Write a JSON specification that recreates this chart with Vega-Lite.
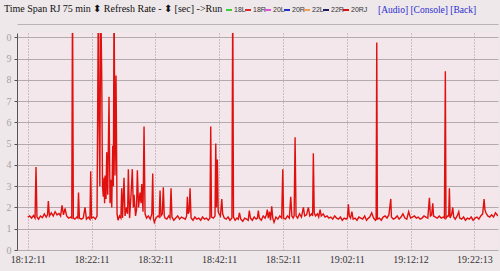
{
  "$schema": "https://vega.github.io/schema/vega-lite/v6.json",
  "width": 481,
  "height": 217,
  "autosize": "none",
  "padding": {"left": 17, "top": 33, "right": 2, "bottom": 21},
  "background": "#eee8ea",
  "config": {
    "view": {"fill": "#f3e7eb", "stroke": null},
    "axis": {"labelFont": "Liberation Serif"}
  },
  "title": {
    "text": "Time Span  RJ 75 min ⬍ Refresh Rate  - ⬍ [sec] ->Run",
    "anchor": "start",
    "frame": "group",
    "dx": -13,
    "offset": 0,
    "dy": 19,
    "font": "Liberation Serif",
    "fontSize": 10,
    "fontWeight": "normal",
    "color": "#111111"
  },
  "data": {
    "values": [
      {"m":0,"v":1.55},{"m":0.3,"v":1.6},{"m":0.6,"v":1.5},{"m":0.9,"v":1.62},{"m":1.15,"v":1.5},{"m":1.3,"v":3.9},{"m":1.45,"v":1.55},{"m":1.7,"v":1.45},{"m":2.0,"v":1.6},{"m":2.3,"v":1.52},{"m":2.6,"v":1.7},{"m":2.9,"v":1.55},{"m":3.1,"v":1.65},{"m":3.23,"v":2.3},{"m":3.4,"v":1.6},{"m":3.7,"v":1.75},{"m":4.0,"v":1.6},{"m":4.3,"v":1.8},{"m":4.6,"v":1.65},{"m":4.9,"v":1.72},{"m":5.15,"v":1.6},{"m":5.38,"v":2.1},{"m":5.6,"v":1.65},{"m":5.85,"v":1.95},{"m":6.1,"v":1.6},{"m":6.4,"v":1.5},{"m":6.7,"v":1.55},{"m":6.9,"v":1.5},{"m":7.02,"v":12},{"m":7.15,"v":1.5},{"m":7.4,"v":1.45},{"m":7.7,"v":1.55},{"m":7.85,"v":1.5},{"m":7.96,"v":2.7},{"m":8.1,"v":1.5},{"m":8.4,"v":1.45},{"m":8.7,"v":1.5},{"m":8.98,"v":2.0},{"m":9.2,"v":1.45},{"m":9.5,"v":1.55},{"m":9.75,"v":1.45},{"m":9.87,"v":3.7},{"m":10.0,"v":1.5},{"m":10.3,"v":1.55},{"m":10.6,"v":1.45},
      {"m":10.86,"v":1.6},{"m":11.07,"v":12},{"m":11.18,"v":6},{"m":11.3,"v":3.0},{"m":11.44,"v":12},{"m":11.6,"v":8.1},{"m":11.72,"v":3.0},{"m":11.85,"v":2.5},{"m":11.96,"v":3.4},{"m":12.05,"v":2.2},{"m":12.12,"v":3.5},{"m":12.27,"v":2.4},{"m":12.38,"v":4.6},{"m":12.54,"v":2.6},{"m":12.74,"v":7.2},{"m":12.9,"v":2.2},{"m":13.01,"v":3.3},{"m":13.17,"v":2.0},{"m":13.32,"v":4.9},{"m":13.42,"v":3.0},{"m":13.53,"v":12},{"m":13.68,"v":3.5},{"m":13.84,"v":8.2},{"m":14.0,"v":1.7},{"m":14.15,"v":1.4},{"m":14.39,"v":1.6},{"m":14.6,"v":1.5},{"m":14.73,"v":2.9},{"m":14.86,"v":1.5},{"m":15.09,"v":3.4},{"m":15.25,"v":1.6},{"m":15.49,"v":2.0},{"m":15.65,"v":1.7},{"m":15.77,"v":3.8},{"m":15.96,"v":1.5},{"m":16.19,"v":2.6},{"m":16.39,"v":3.8},{"m":16.55,"v":2.0},{"m":16.66,"v":2.6},{"m":16.9,"v":1.6},{"m":17.05,"v":1.9},{"m":17.18,"v":3.75},{"m":17.37,"v":2.0},{"m":17.6,"v":2.7},{"m":17.76,"v":2.2},{"m":17.87,"v":3.1},{"m":18.07,"v":1.8},{"m":18.23,"v":5.8},{"m":18.39,"v":1.7},{"m":18.62,"v":1.5},
      {"m":18.9,"v":1.6},{"m":19.2,"v":1.45},{"m":19.45,"v":1.7},{"m":19.59,"v":3.6},{"m":19.7,"v":1.5},{"m":19.84,"v":1.3},{"m":20.1,"v":1.5},{"m":20.4,"v":1.6},{"m":20.6,"v":1.55},{"m":20.74,"v":2.8},{"m":20.88,"v":1.6},{"m":21.1,"v":1.7},{"m":21.25,"v":2.95},{"m":21.4,"v":1.6},{"m":21.52,"v":1.5},{"m":21.8,"v":1.45},{"m":22.1,"v":1.6},{"m":22.3,"v":1.5},{"m":22.46,"v":2.9},{"m":22.6,"v":1.55},{"m":22.9,"v":1.4},{"m":23.2,"v":1.5},{"m":23.5,"v":1.6},{"m":23.8,"v":1.45},{"m":24.1,"v":1.55},{"m":24.4,"v":1.5},{"m":24.7,"v":1.45},{"m":24.9,"v":1.6},{"m":25.02,"v":2.5},{"m":25.15,"v":1.7},{"m":25.3,"v":1.8},{"m":25.44,"v":2.9},{"m":25.6,"v":1.5},{"m":25.9,"v":1.4},{"m":26.2,"v":1.55},{"m":26.5,"v":1.45},{"m":26.8,"v":1.5},{"m":27.1,"v":1.4},{"m":27.4,"v":1.55},{"m":27.7,"v":1.45},{"m":28.0,"v":1.5},{"m":28.3,"v":1.4},{"m":28.55,"v":1.5},{"m":28.68,"v":5.8},{"m":28.8,"v":1.55},{"m":29.1,"v":1.5},{"m":29.35,"v":1.6},{"m":29.47,"v":5.0},{"m":29.58,"v":2.0},{"m":29.72,"v":4.25},{"m":29.85,"v":1.8},{"m":30.0,"v":1.7},{"m":30.2,"v":1.6},{"m":30.41,"v":2.4},{"m":30.55,"v":1.7},{"m":30.8,"v":1.5},{"m":31.1,"v":1.45},{"m":31.4,"v":1.55},{"m":31.7,"v":1.4},{"m":32.0,"v":1.5},{"m":32.13,"v":12},{"m":32.25,"v":1.55},{"m":32.5,"v":1.4},{"m":32.8,"v":1.5},{"m":33.0,"v":1.45},{"m":33.17,"v":1.75},{"m":33.4,"v":1.45},{"m":33.7,"v":1.35},{"m":34.0,"v":1.5},{"m":34.3,"v":1.45},{"m":34.55,"v":1.4},{"m":34.73,"v":1.85},{"m":34.9,"v":1.5},{"m":35.2,"v":1.4},{"m":35.5,"v":1.55},{"m":35.8,"v":1.45},{"m":36.0,"v":1.5},{"m":36.14,"v":1.85},{"m":36.3,"v":1.5},{"m":36.6,"v":1.4},{"m":36.9,"v":1.6},{"m":37.2,"v":1.5},{"m":37.4,"v":1.65},{"m":37.55,"v":1.9},{"m":37.7,"v":1.5},{"m":37.9,"v":1.8},{"m":38.05,"v":1.4},{"m":38.24,"v":2.05},{"m":38.4,"v":1.5},{"m":38.6,"v":1.3},{"m":38.9,"v":1.55},{"m":39.2,"v":1.45},{"m":39.5,"v":1.6},{"m":39.8,"v":1.5},{"m":39.97,"v":3.8},{"m":40.1,"v":1.5},{"m":40.4,"v":1.45},{"m":40.7,"v":1.6},{"m":41.0,"v":1.5},{"m":41.22,"v":2.5},{"m":41.4,"v":1.6},{"m":41.6,"v":1.5},{"m":41.75,"v":1.6},{"m":41.9,"v":5.3},{"m":42.05,"v":1.6},{"m":42.3,"v":1.5},{"m":42.6,"v":1.7},{"m":42.9,"v":1.55},{"m":43.2,"v":2.0},{"m":43.4,"v":1.6},{"m":43.7,"v":1.65},{"m":43.98,"v":2.0},{"m":44.2,"v":1.6},{"m":44.5,"v":1.7},{"m":44.65,"v":1.6},{"m":44.76,"v":4.55},{"m":44.9,"v":1.75},{"m":45.1,"v":1.6},{"m":45.4,"v":1.7},{"m":45.6,"v":1.55},{"m":45.82,"v":1.9},{"m":46.0,"v":1.6},{"m":46.3,"v":1.7},{"m":46.6,"v":1.55},{"m":46.9,"v":1.6},{"m":47.2,"v":1.5},{"m":47.5,"v":1.55},{"m":47.8,"v":1.45},{"m":48.1,"v":1.6},{"m":48.4,"v":1.5},{"m":48.7,"v":1.45},{"m":49.0,"v":1.55},{"m":49.3,"v":1.4},{"m":49.6,"v":1.5},{"m":49.9,"v":1.45},{"m":50.1,"v":1.5},{"m":50.25,"v":2.15},{"m":50.4,"v":1.6},{"m":50.6,"v":1.5},{"m":50.8,"v":1.8},{"m":51.0,"v":1.45},{"m":51.3,"v":1.5},{"m":51.6,"v":1.4},{"m":51.9,"v":1.55},{"m":52.2,"v":1.5},{"m":52.5,"v":1.45},{"m":52.8,"v":1.6},{"m":53.1,"v":1.4},{"m":53.4,"v":1.5},{"m":53.6,"v":1.55},{"m":53.9,"v":1.75},{"m":54.2,"v":1.5},{"m":54.5,"v":1.4},{"m":54.6,"v":1.45},{"m":54.7,"v":9.75},{"m":54.8,"v":1.45},{"m":55.1,"v":1.5},{"m":55.4,"v":1.4},{"m":55.7,"v":1.55},{"m":56.0,"v":1.6},{"m":56.3,"v":1.5},{"m":56.6,"v":1.65},{"m":56.9,"v":2.4},{"m":57.0,"v":1.55},{"m":57.3,"v":1.45},{"m":57.6,"v":1.5},{"m":57.9,"v":1.6},{"m":58.2,"v":1.45},{"m":58.5,"v":1.55},{"m":58.8,"v":1.7},{"m":59.1,"v":1.5},{"m":59.4,"v":1.45},{"m":59.7,"v":1.8},{"m":60.0,"v":1.5},{"m":60.3,"v":1.55},{"m":60.6,"v":1.6},{"m":60.9,"v":1.5},{"m":61.2,"v":1.55},{"m":61.5,"v":1.45},{"m":61.8,"v":1.5},{"m":62.1,"v":1.6},{"m":62.4,"v":1.55},{"m":62.7,"v":1.5},{"m":62.95,"v":2.45},{"m":63.1,"v":1.6},{"m":63.3,"v":1.65},{"m":63.48,"v":2.2},{"m":63.6,"v":1.6},{"m":63.9,"v":1.55},{"m":64.2,"v":1.5},{"m":64.5,"v":1.6},{"m":64.8,"v":1.5},{"m":65.1,"v":1.55},{"m":65.3,"v":1.5},{"m":65.45,"v":8.4},{"m":65.55,"v":1.5},{"m":65.8,"v":1.6},{"m":65.97,"v":1.6},{"m":66.08,"v":2.9},{"m":66.2,"v":1.5},{"m":66.45,"v":1.7},{"m":66.61,"v":2.0},{"m":66.75,"v":1.55},{"m":67.0,"v":1.45},{"m":67.3,"v":1.6},{"m":67.55,"v":1.8},{"m":67.7,"v":1.5},{"m":68.0,"v":1.45},{"m":68.3,"v":1.55},{"m":68.6,"v":1.4},{"m":68.9,"v":1.5},{"m":69.2,"v":1.45},{"m":69.5,"v":1.55},{"m":69.8,"v":1.4},{"m":70.1,"v":1.5},{"m":70.4,"v":1.55},{"m":70.7,"v":1.45},{"m":71.0,"v":1.6},{"m":71.3,"v":1.7},{"m":71.52,"v":2.4},{"m":71.65,"v":1.9},{"m":71.8,"v":1.75},{"m":72.1,"v":1.6},{"m":72.4,"v":1.55},{"m":72.7,"v":1.65},{"m":73.0,"v":1.55},{"m":73.3,"v":1.75},{"m":73.7,"v":1.6}
    ]
  },
  "resolve": {"axis": {"x": "independent"}},
  "layer": [
    {
      "mark": {"type": "line", "clip": true, "strokeWidth": 1.4, "interpolate": "linear"},
      "encoding": {
        "x": {
          "field": "m", "type": "quantitative",
          "scale": {"domain": [-1.68, 73.7], "nice": false, "zero": false},
          "axis": {
            "orient": "bottom", "title": null, "values": [0,10,20,30,40,50,60,70],
            "labelExpr": "['18:12:11','18:22:11','18:32:11','18:42:11','18:52:11','19:02:11','19:12:12','19:22:13'][round(datum.value/10)]",
            "labelFontSize": 10, "labelColor": "#333333", "labelDx": -8, "labelPadding": 4,
            "domain": false, "ticks": false,
            "grid": true, "gridColor": "#9a9a9a", "gridDash": [1, 2], "gridWidth": 1
          }
        },
        "y": {
          "field": "v", "type": "quantitative",
          "scale": {"domain": [0, 10.2], "nice": false},
          "axis": {
            "title": null, "values": [0,1,2,3,4,5,6,7,8,9,10],
            "labelExpr": "'' + (datum.value % 10)",
            "labelOverlap": false, "labelFlush": false, "labelBound": false,
            "labelFontSize": 10, "labelColor": "#a8a0a4", "labelPadding": 3,
            "domainColor": "#555555", "tickColor": "#555555", "tickSize": 3,
            "grid": true, "gridColor": "#b3aaae", "gridWidth": 1
          }
        },
        "color": {
          "datum": "20RJ", "type": "nominal",
          "scale": {
            "domain": ["18L","18R","20L","20R","22L","22R","20RJ"],
            "range": ["#3ccf3c","#e02828","#e050d8","#2430c0","#f0a050","#202060","#e0100f"]
          },
          "legend": {
            "orient": "none", "legendX": 208, "legendY": -27, "direction": "horizontal",
            "gridAlign": "none",
            "title": "[Audio] [Console] [Back]", "titleOrient": "right",
            "titleFont": "Liberation Serif", "titleFontSize": 9.5, "titleFontWeight": "normal",
            "titleColor": "#2a2ad0", "titlePadding": 11,
            "labelFont": "Liberation Sans", "labelFontSize": 7, "labelColor": "#333333", "labelOffset": 1,
            "symbolType": "stroke", "symbolSize": 36, "symbolStrokeWidth": 2, "columnPadding": -5,
            "padding": 0
          }
        }
      }
    },
    {
      "mark": {"type": "line", "opacity": 0},
      "encoding": {
        "x": {
          "field": "m", "type": "quantitative",
          "axis": {
            "orient": "top", "title": null, "labels": false, "ticks": false, "grid": false,
            "domain": true, "domainColor": "#b8b4b6", "offset": 9
          }
        },
        "y": {
          "field": "v", "type": "quantitative",
          "axis": {
            "title": null, "values": [0,1,2,3,4,5,6,7,8,9,10],
            "labelExpr": "'' + (datum.value % 10)",
            "labelOverlap": false, "labelFlush": false, "labelBound": false,
            "labelFontSize": 10, "labelColor": "#a8a0a4", "labelPadding": 3,
            "domainColor": "#555555", "tickColor": "#555555", "tickSize": 3,
            "grid": true, "gridColor": "#b3aaae", "gridWidth": 1
          }
        }
      }
    }
  ]
}
